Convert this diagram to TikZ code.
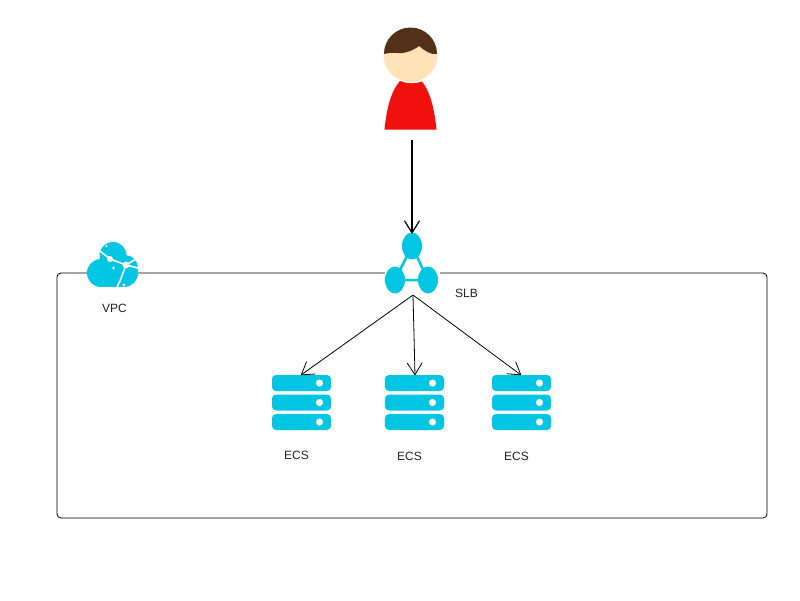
\documentclass[tikz,border=0pt]{standalone}
\usepackage{fontspec}
\setmainfont{Liberation Sans}
\usetikzlibrary{arrows.meta}
\definecolor{iconblue}{HTML}{00C5E3}
\definecolor{shirt}{HTML}{F0110E}
\definecolor{hair}{HTML}{53301A}
\definecolor{skin}{HTML}{FFE3B8}
\definecolor{ink}{HTML}{222222}
\pgfdeclarearrow{
  name=OpenTip,
  parameters={\the\pgflinewidth},
  setup code={
    \pgfarrowssettipend{0pt}
    \pgfarrowssetlineend{-0.6pt}
    \pgfarrowssetvisualbackend{-12pt}
    \pgfarrowssetbackend{-12pt}
    \pgfarrowshullpoint{0pt}{0pt}
    \pgfarrowsupperhullpoint{-12pt}{7.5pt}
  },
  drawing code={
    \pgfsetdash{}{0pt}
    \pgfsetroundjoin
    \pgfpathmoveto{\pgfpoint{-12pt}{7.5pt}}
    \pgfpathlineto{\pgfpointorigin}
    \pgfpathlineto{\pgfpoint{-12pt}{-7.5pt}}
    \pgfusepathqstroke
  }
}
\tikzset{
  lbl/.style={font=\fontsize{12}{14}\selectfont,text=ink,inner sep=0pt},
  link/.style={draw=black,line width=0.8pt,-{OpenTip}},
  bar/.style={fill=iconblue,rounded corners=4pt},
  anchorpt/.style={inner sep=0pt,minimum size=0pt}
}
\begin{document}
\begin{tikzpicture}[x=1pt,y=-1pt]
\useasboundingbox (0,0) rectangle (800,600);
% VPC box
\draw[black,line width=0.8pt,rounded corners=4pt] (57,273) rectangle (767,518);
\fill[white] (385,270) rectangle (440,276);
% user
\fill[shirt] (384.5,129.5) .. controls (387,105) and (392,90) .. (400,81)
  .. controls (407,84) and (415,84) .. (422,81.5)
  .. controls (429,90) and (434,105) .. (436.5,129.5) -- cycle;
\fill[skin] (410.5,55) circle [radius=27];
\fill[hair] (384,54) arc[start angle=180,end angle=360,radius=26.5]
  .. controls (430,55) and (424,50) .. (419,46)
  .. controls (414,50) and (405,54) .. (397,53)
  .. controls (392,52.5) and (388,53) .. (384,54) -- cycle;
\node[anchorpt] (user) at (412,140) {};
% SLB
\draw[iconblue,line width=2.5pt] (412,246) -- (395,280) -- (428,280) -- cycle;
\fill[iconblue] (412,246) ellipse [x radius=10,y radius=13.5];
\fill[iconblue] (395,280) ellipse [x radius=10,y radius=13.5];
\fill[iconblue] (428,280) ellipse [x radius=10,y radius=13.5];
\node[anchorpt] (slbtop) at (412,233) {};
\node[anchorpt] (slbbot) at (413,295) {};
\node[lbl] (slblabel) at (466.5,293) {SLB};
% VPC cloud
\fill[iconblue] (113,255.5) circle [radius=13.5];
\fill[iconblue] (101,273) circle [radius=14];
\fill[iconblue] (125,268) circle [radius=13];
\fill[iconblue] (124,273) circle [radius=14];
\fill[iconblue] (101,265) rectangle (124,287);
\draw[white,line width=1.6pt,line cap=round]
  (100,251) -- (110,259) -- (126,265) -- (136,259)
  (126,265) -- (120,281) -- (117,287) (126,265) -- (138,268);
\fill[white] (110,259) circle [radius=3];
\fill[white] (126,265) circle [radius=3.4];
\fill[white] (113.5,268) circle [radius=1.3];
\fill[white] (124,285) circle [radius=1.6];
\fill[white] (106.5,246) circle [radius=1.1];
\node[lbl] (vpclabel) at (114.5,308) {VPC};
% servers
\foreach \nm/\x/\lx/\ly in {a/272/296.5/455,b/385/409.5/456,c/492/516.5/456}{
  \foreach \yy in {375,394.5,414}{
    \fill[bar] (\x,\yy) rectangle ++(59,16);
    \fill[white] (\x+47.5,\yy+8) circle [radius=3.6];
  }
  \node[lbl] (ecs\nm) at (\lx,\ly) {ECS};
}
\node[anchorpt] (srva) at (301,375) {};
\node[anchorpt] (srvb) at (415,375) {};
\node[anchorpt] (srvc) at (521,375) {};
% connectors
\draw[link,line width=1.2pt] (user) -- (slbtop);
\draw[link] (slbbot) -- (srva);
\draw[link] (slbbot) -- (srvb);
\draw[link] (slbbot) -- (srvc);
\end{tikzpicture}
\end{document}
